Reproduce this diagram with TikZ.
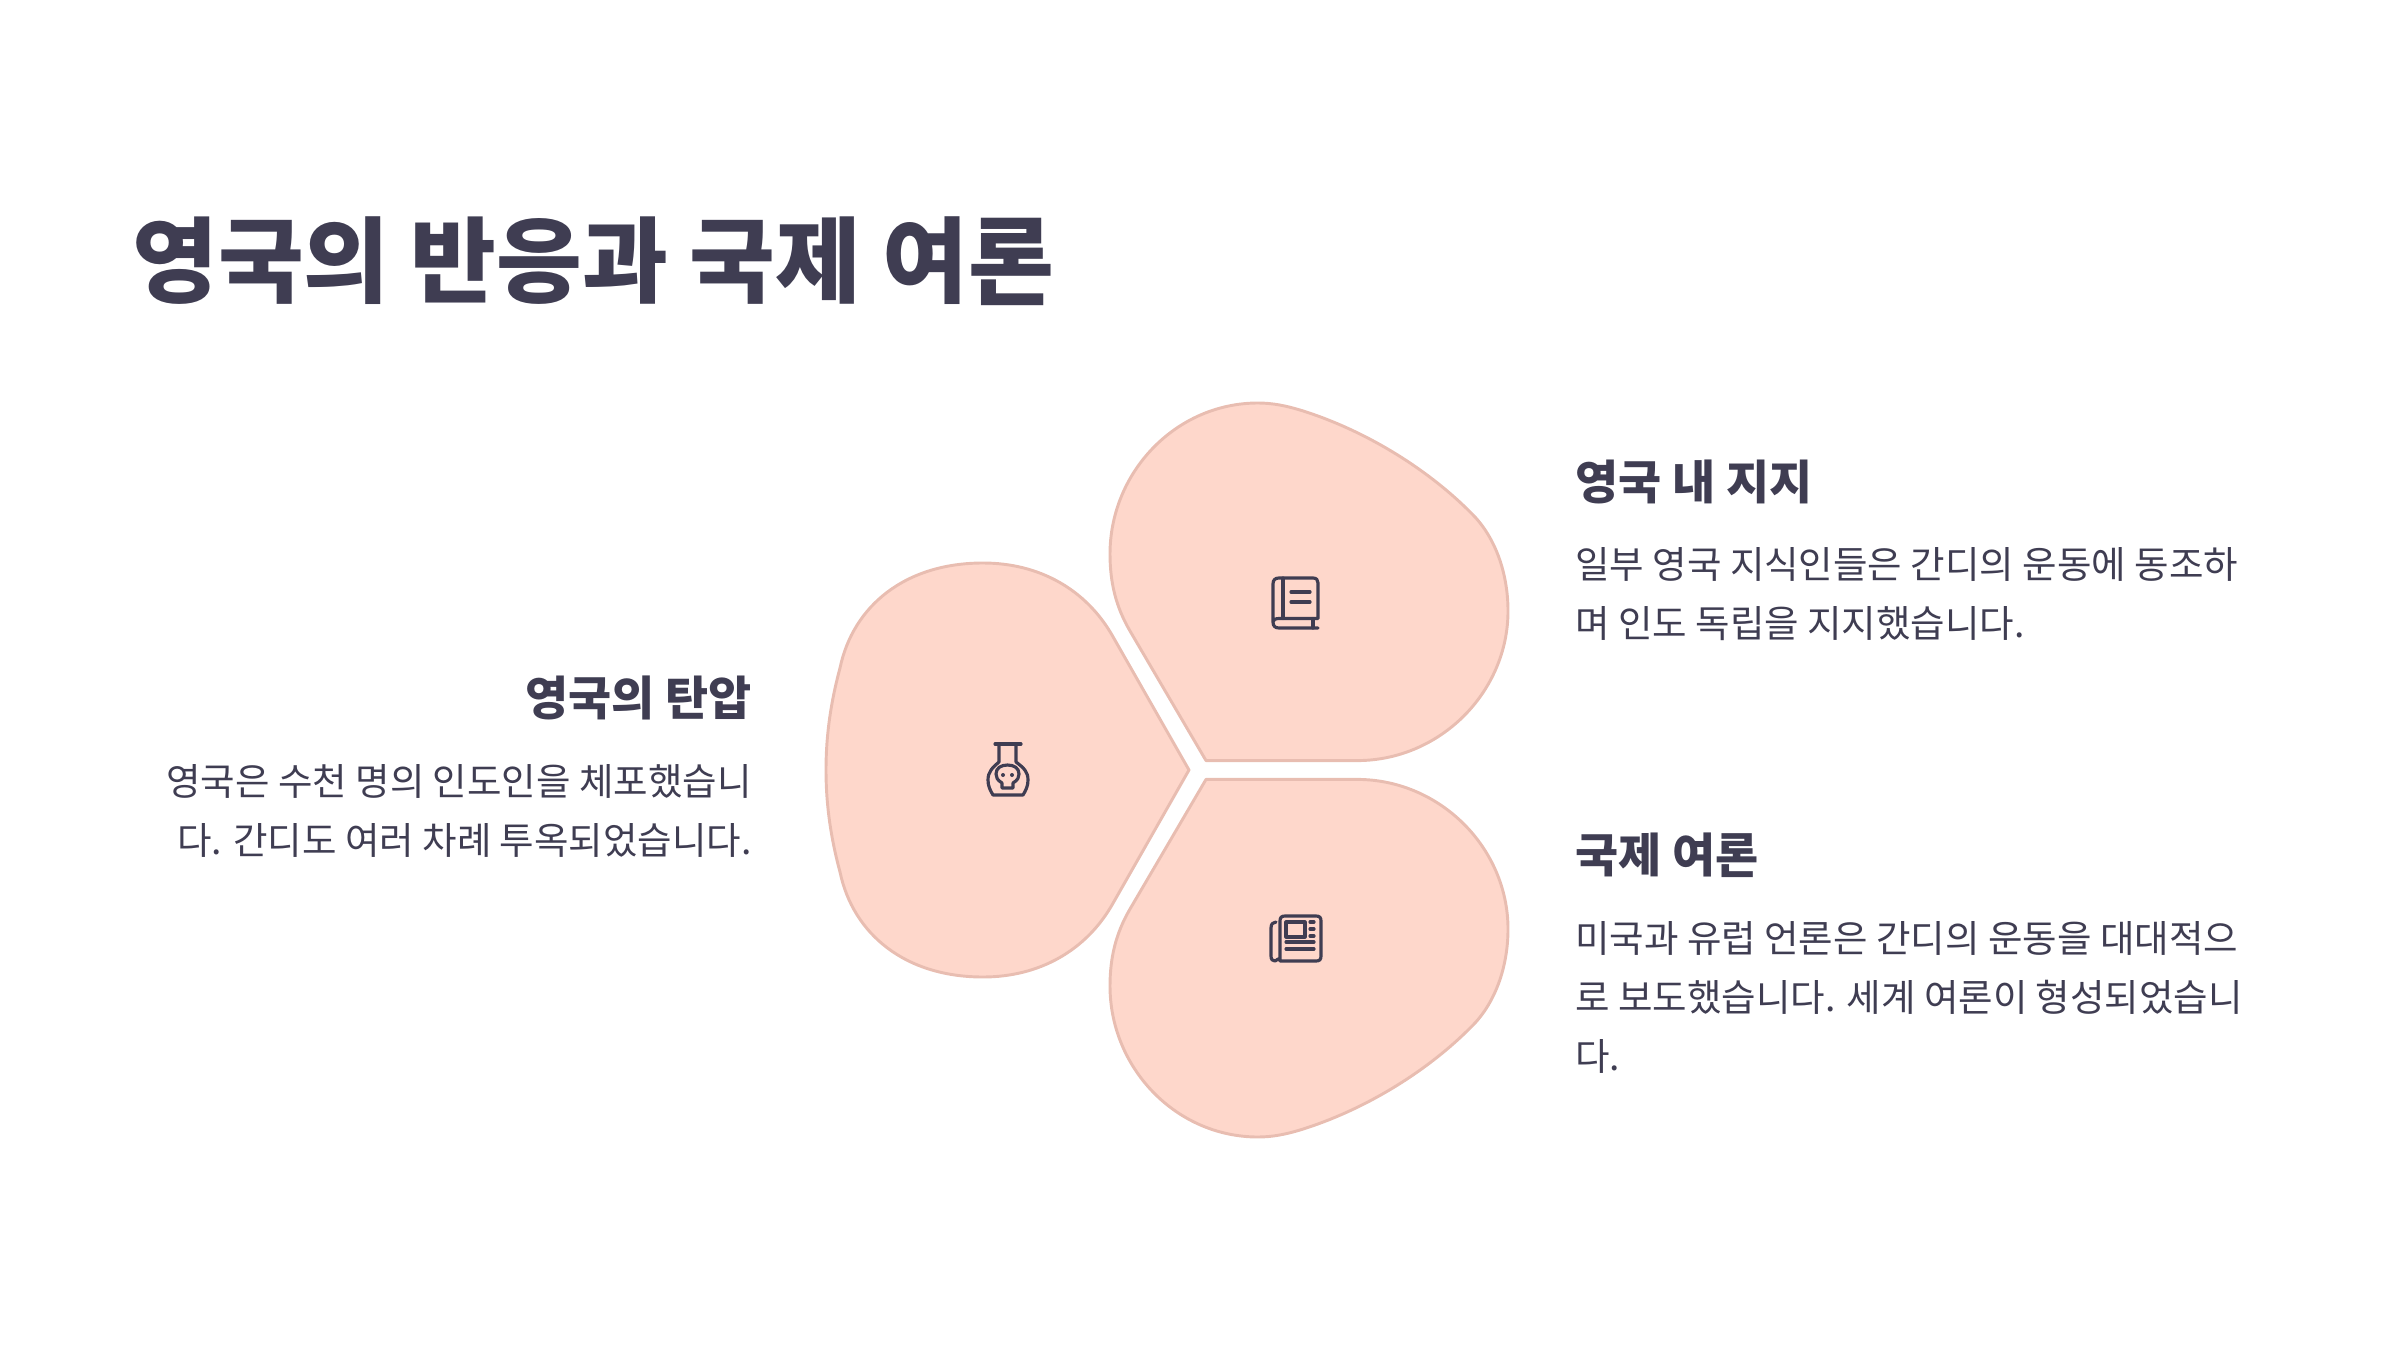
\documentclass[tikz,border=0pt]{standalone}
\usepackage{fontspec}
\newfontfamily\kr{Noto Sans CJK KR}
\definecolor{ink}{HTML}{3F3D52}
\definecolor{petal}{HTML}{FED7CB}
\definecolor{petaledge}{HTML}{E8BDB1}
\tikzset{
 petalshape/.style={fill=petal,draw=petaledge,line width=2.5pt,line join=round},
 iconline/.style={draw=ink,line width=2.7pt,line cap=round,line join=round},
 titletext/.style={text=ink,inner sep=0,font=\kr\fontsize{79.6}{96}\selectfont\bfseries},
 headtext/.style={text=ink,inner sep=0,font=\kr\fontsize{40}{48}\selectfont\bfseries},
 bodytext/.style={text=ink,inner sep=0,font=\kr\fontsize{32}{40}\selectfont},
}
\begin{document}
\begin{tikzpicture}[x=0.3mm,y=-0.3mm]
\useasboundingbox (0,0) rectangle (2400,1350);
% petals
\path[petalshape] (1189,770) -- (1112,635) .. controls (1086,590) and (1040,563) .. (983,563)
 .. controls (905,563) and (853,606) .. (840,668) .. controls (830,705) and (826,738) .. (826,770)
 .. controls (826,802) and (830,835) .. (840,872) .. controls (853,934) and (905,977) .. (983,977)
 .. controls (1040,977) and (1086,950) .. (1112,905) -- cycle;
\path[petalshape] (1206,760.6) -- (1357,760.6) .. controls (1440,760.6) and (1508,692) .. (1508,611)
 .. controls (1508,576) and (1497,541) .. (1475,517) .. controls (1430,470) and (1365,430) .. (1300,410)
 .. controls (1285,405.5) and (1272,403) .. (1258,403) .. controls (1176,403) and (1110,472) .. (1110,554)
 .. controls (1110,583) and (1116,607) .. (1130,631) -- cycle;
\path[petalshape] (1206,779.4) -- (1357,779.4) .. controls (1440,779.4) and (1508,848) .. (1508,929)
 .. controls (1508,964) and (1497,999) .. (1475,1023) .. controls (1430,1070) and (1365,1110) .. (1300,1130)
 .. controls (1285,1134.5) and (1272,1137) .. (1258,1137) .. controls (1176,1137) and (1110,1068) .. (1110,986)
 .. controls (1110,957) and (1116,933) .. (1130,909) -- cycle;
% flask icon
\draw[iconline] (995,744) -- (1021,744);
\draw[iconline] (999,744) -- (999,762) .. controls (992,768) and (988,772) .. (988,780)
 .. controls (988,786) and (990,790) .. (993,795) -- (1023,795) .. controls (1026,790) and (1028,786) .. (1028,780)
 .. controls (1028,772) and (1024,768) .. (1016,762) -- (1016,744);
\draw[iconline] (1002,788) -- (1002,783) .. controls (997,780) and (996,777) .. (996,774)
 .. controls (996,768) and (1001,765) .. (1007.5,765) .. controls (1014,765) and (1019,768) .. (1019,774)
 .. controls (1019,777) and (1018,780) .. (1013,783) -- (1013,788) -- cycle;
\fill[ink] (1003,775) circle (2) (1012,775) circle (2);
% book icon
\draw[iconline] (1318,628) -- (1279,628) .. controls (1275,628) and (1273,626) .. (1273,622) -- (1273,584)
 .. controls (1273,580) and (1275,578) .. (1279,578) -- (1313,578) .. controls (1316.5,578) and (1318,580) .. (1318,583) -- (1318,618.5) -- (1279,618.5)
 .. controls (1275,618.5) and (1273,620) .. (1273,622);
\draw[iconline] (1283,578) -- (1283,618.5);
\draw[iconline] (1313,618.5) -- (1313,628);
\draw[iconline] (1291,592) -- (1310,592);
\draw[iconline] (1291,602) -- (1310,602);
% newspaper icon
\draw[iconline] (1280,961) -- (1316,961) .. controls (1319.5,961) and (1321,959.5) .. (1321,956) -- (1321,921)
 .. controls (1321,917.5) and (1319.5,916) .. (1316,916) -- (1285,916) .. controls (1281.5,916) and (1280,917.5) .. (1280,921) -- (1280,961)
 .. controls (1280,956) and (1276,961) .. (1275,961) .. controls (1272.5,961) and (1271,959.5) .. (1271,956) -- (1271,928)
 .. controls (1271,924) and (1273,922) .. (1276,922);
\draw[iconline] (1286,922) rectangle (1305,937);
\draw[iconline] (1310,922) -- (1314,922);
\draw[iconline] (1310,929) -- (1314,929);
\draw[iconline] (1310,936) -- (1314,936);
\draw[iconline] (1286,942) -- (1314,942);
\draw[iconline] (1286,949) -- (1314,949);
% text
\node[titletext,anchor=base west] (title) at (132,295) {영국의 반응과 국제 여론};
\node[headtext,anchor=base west] (h1) at (1575,499) {영국 내 지지};
\node[bodytext,anchor=base west] (b1a) at (1575,578.5) {일부 영국 지식인들은 간디의 운동에 동조하};
\node[bodytext,anchor=base west] (b1b) at (1575,637.5) {며 인도 독립을 지지했습니다.};
\node[headtext,anchor=base west] (h2) at (1575,872) {국제 여론};
\node[bodytext,anchor=base west] (b2a) at (1575,952.5) {미국과 유럽 언론은 간디의 운동을 대대적으};
\node[bodytext,anchor=base west] (b2b) at (1575,1011.5) {로 보도했습니다. 세계 여론이 형성되었습니};
\node[bodytext,anchor=base west] (b2c) at (1575,1070.5) {다.};
\node[headtext,anchor=base east] (h3) at (752,715) {영국의 탄압};
\node[bodytext,anchor=base east] (b3a) at (752,795.5) {영국은 수천 명의 인도인을 체포했습니};
\node[bodytext,anchor=base east] (b3b) at (752,854.5) {다. 간디도 여러 차례 투옥되었습니다.};
\end{tikzpicture}
\end{document}
